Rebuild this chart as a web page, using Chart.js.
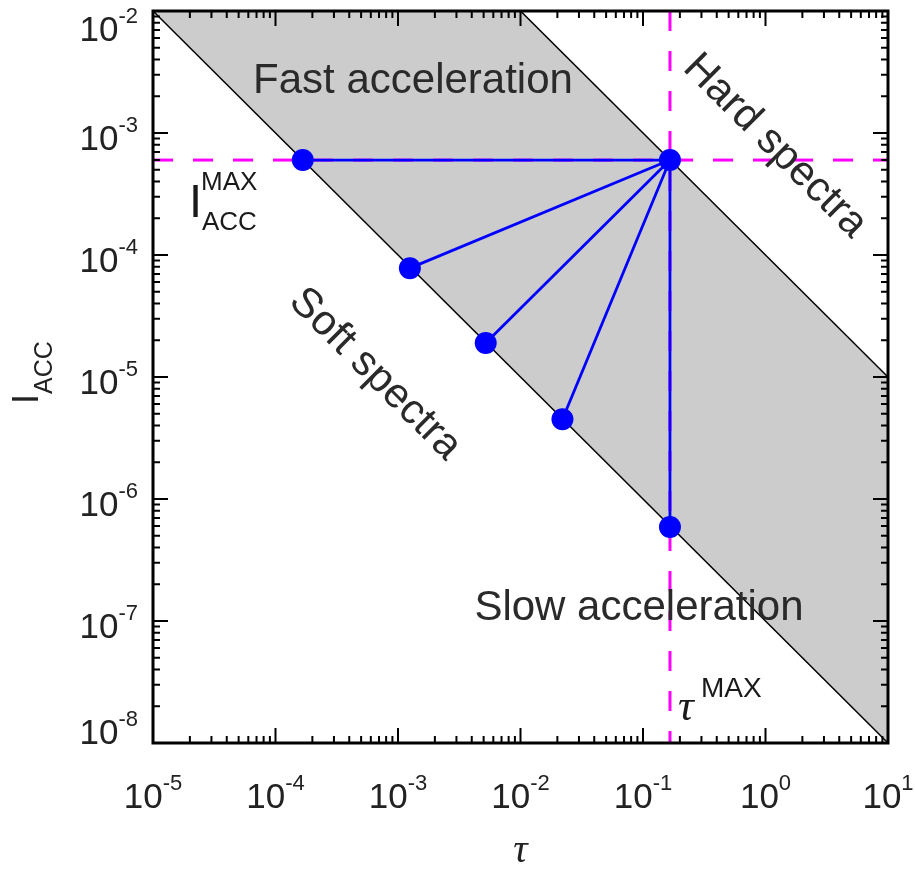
<!DOCTYPE html>
<html>
<head>
<meta charset="utf-8">
<script src="https://cdn.jsdelivr.net/npm/chart.js@4.4.1/dist/chart.umd.min.js"></script>
<style>
  html, body { margin: 0; padding: 0; background: #fff; }
  canvas { display: block; }
</style>
</head>
<body>
<canvas id="accChart" width="915" height="871"></canvas>
<script>
// decades shown on each axis (log10)
const xExponents = [-5, -4, -3, -2, -1, 0, 1];
const yExponents = [-8, -7, -6, -5, -4, -3, -2];

// boundary lines  I * tau = const
const lowerLineTau = [1e-5, 10];
const lowerLineI = [1e-2, 1e-8];
const upperLineTau = [1e-2, 10];
const upperLineI = [1e-2, 1e-5];

// corners of the shaded band
const bandTau = [1e-5, 1e-2, 10, 10];
const bandI = [1e-2, 1e-2, 1e-5, 1e-8];

const tauMax = 0.166;
const iMax = 6e-4;

// points on the lower boundary
const pointTau = [1.67e-4, 1.25e-3, 5.2e-3, 2.2e-2, 0.166];
const pointI = [6e-4, 7.8e-5, 1.9e-5, 4.5e-6, 5.9e-7];

const BLUE = '#0000ff';
const MAGENTA = '#ff00ff';
const SANS = '"Liberation Sans", Arial, Helvetica, sans-serif';
const SERIF = '"Liberation Serif", "Times New Roman", serif';

function pairs(xs, ys) {
  return xs.map((x, i) => ({ x: x, y: ys[i] }));
}

let hub = { x: tauMax, y: iMax };

let spokes = pointTau.map((t, i) => ({
  data: [hub, { x: t, y: pointI[i] }],
  showLine: true,
  borderColor: BLUE,
  borderWidth: 2.8,
  pointRadius: 0
}));

let datasets = [
  {
    data: pairs(pointTau, pointI).concat([hub]),
    showLine: false,
    pointRadius: 11,
    pointBackgroundColor: BLUE,
    pointBorderWidth: 0
  },
  ...spokes,
  {
    data: [{ x: 1e-5, y: iMax }, { x: 10, y: iMax }],
    showLine: true,
    borderColor: MAGENTA,
    borderWidth: 3,
    borderDash: [20, 20],
    pointRadius: 0
  },
  {
    data: [{ x: tauMax, y: 1e-2 }, { x: tauMax, y: 1e-8 }],
    showLine: true,
    borderColor: MAGENTA,
    borderWidth: 3,
    borderDash: [20, 20],
    pointRadius: 0
  },
  {
    data: pairs(lowerLineTau, lowerLineI),
    showLine: true,
    borderColor: '#000',
    borderWidth: 1.5,
    pointRadius: 0
  },
  {
    data: pairs(upperLineTau, upperLineI),
    showLine: true,
    borderColor: '#000',
    borderWidth: 1.5,
    pointRadius: 0
  },
  {
    data: pairs(bandTau, bandI),
    showLine: true,
    borderWidth: 0,
    borderColor: 'rgba(0,0,0,0)',
    backgroundColor: '#cccccc',
    fill: 'shape',
    pointRadius: 0
  }
];

// "10" with a superscript exponent
function drawPower(ctx, exp, x, base, align) {
  let main = '10', sup = String(exp);
  ctx.font = '35px ' + SANS;
  let wMain = ctx.measureText(main).width;
  ctx.font = '22px ' + SANS;
  let wSup = ctx.measureText(sup).width;
  let left = align === 'right' ? x - wMain - wSup : x - (wMain + wSup) / 2;
  ctx.textAlign = 'left';
  ctx.textBaseline = 'alphabetic';
  ctx.font = '35px ' + SANS;
  ctx.fillText(main, left, base);
  ctx.font = '22px ' + SANS;
  ctx.fillText(sup, left + wMain, base - 18);
}

const framePlugin = {
  id: 'frame',
  beforeDraw(chart) {
    let c = chart.ctx;
    c.save();
    c.fillStyle = '#fff';
    c.fillRect(0, 0, chart.width, chart.height);
    c.restore();
  },
  afterDatasetsDraw(chart) {
    let c = chart.ctx;
    let a = chart.chartArea;
    let xs = chart.scales.x, ys = chart.scales.y;
    c.save();

    // inside ticks on all four sides
    c.strokeStyle = '#000';
    c.lineWidth = 2;
    c.beginPath();
    xExponents.forEach((e, i) => {
      for (let k = 1; k <= 9; k++) {
        if (k > 1 && i === xExponents.length - 1) break;
        let px = xs.getPixelForValue(k * Math.pow(10, e));
        let len = k === 1 ? 15 : 7;
        c.moveTo(px, a.bottom); c.lineTo(px, a.bottom - len);
        c.moveTo(px, a.top); c.lineTo(px, a.top + len);
      }
    });
    yExponents.forEach((e, i) => {
      for (let k = 1; k <= 9; k++) {
        if (k > 1 && i === yExponents.length - 1) break;
        let py = ys.getPixelForValue(k * Math.pow(10, e));
        let len = k === 1 ? 15 : 7;
        c.moveTo(a.left, py); c.lineTo(a.left + len, py);
        c.moveTo(a.right, py); c.lineTo(a.right - len, py);
      }
    });
    c.stroke();

    c.lineWidth = 3;
    c.strokeRect(a.left, a.top, a.right - a.left, a.bottom - a.top);

    // tick labels
    c.fillStyle = '#222';
    xExponents.forEach(e => {
      drawPower(c, e, xs.getPixelForValue(Math.pow(10, e)), a.bottom + 65, 'center');
    });
    yExponents.forEach((e, i) => {
      let py = ys.getPixelForValue(Math.pow(10, e));
      let base = py + 17;
      if (i === 0) base = a.bottom + 1;
      if (i === yExponents.length - 1) base = a.top + 30;
      drawPower(c, e, a.left - 15, base, 'right');
    });

    // axis titles
    c.font = 'italic 40px ' + SERIF;
    c.textAlign = 'center';
    c.textBaseline = 'alphabetic';
    c.fillText('\u03c4', (a.left + a.right) / 2, 862);

    c.save();
    c.translate(38, 404);
    c.rotate(-Math.PI / 2);
    c.textAlign = 'left';
    c.font = '36px ' + SANS;
    c.fillText('I', 0, 0);
    let wI = c.measureText('I').width;
    c.font = '25px ' + SANS;
    c.fillText('ACC', wI, 14);
    c.restore();

    // region labels
    c.fillStyle = '#2a2a2a';
    c.font = '42px ' + SANS;
    c.textAlign = 'center';
    c.fillText('Fast acceleration', 413, 93);
    c.fillText('Slow acceleration', 639, 620);

    c.textBaseline = 'middle';
    c.save();
    c.translate(775, 146);
    c.rotate(Math.PI / 4);
    c.fillText('Hard spectra', 0, 0);
    c.restore();
    c.save();
    c.translate(375, 374);
    c.rotate(Math.PI / 4);
    c.fillText('Soft spectra', 0, 0);
    c.restore();

    // I_ACC^MAX marker label
    c.textAlign = 'left';
    c.textBaseline = 'alphabetic';
    c.fillStyle = '#1a1a1a';
    c.font = '47px ' + SANS;
    c.fillText('I', 189, 217);
    c.font = '26px ' + SANS;
    c.fillText('MAX', 201, 190);
    c.fillText('ACC', 202, 230);

    // tau^MAX marker label
    c.font = 'italic 44px ' + SERIF;
    c.fillText('\u03c4', 678, 720);
    c.font = '28px ' + SANS;
    c.fillText('MAX', 701, 697);

    c.restore();
  }
};

new Chart(document.getElementById('accChart'), {
  type: 'scatter',
  data: { datasets: datasets },
  options: {
    responsive: false,
    animation: false,
    events: [],
    layout: { padding: { left: 153, top: 8, right: 27, bottom: 128 } },
    plugins: { legend: { display: false }, tooltip: { enabled: false } },
    scales: {
      x: { type: 'logarithmic', min: 1e-5, max: 10, display: false },
      y: { type: 'logarithmic', min: 1e-8, max: 1e-2, display: false }
    }
  },
  plugins: [framePlugin]
});
</script>
</body>
</html>
